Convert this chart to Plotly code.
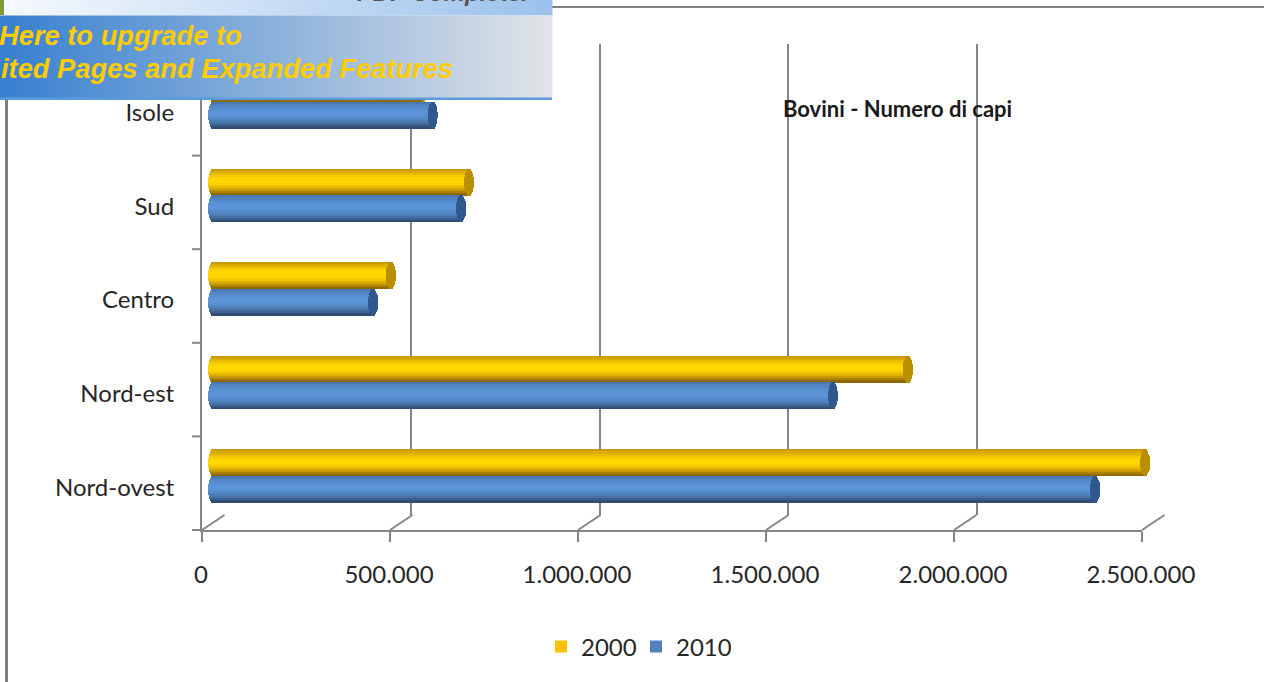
import math
import plotly.graph_objects as go

categories = ["Nord-ovest", "Nord-est", "Centro", "Sud", "Isole"]
values_2000 = [2479000, 1848000, 473000, 681000, 560000]
values_2010 = [2346000, 1649000, 426000, 660000, 584000]
x_ticks = [0, 500000, 1000000, 1500000, 2000000, 2500000]
x_labels = ["0", "500.000", "1.000.000", "1.500.000", "2.000.000", "2.500.000"]
series_names = ["2000", "2010"]
title_text = "Bovini - Numero di capi"
banner_lines = ["Here to upgrade to", "ited Pages and Expanded Features"]

W, H = 1264, 682
FONT = "Lato, Carlito, sans-serif"
GRAY = "#858585"
px_per_unit = 940 / 2500000
def fx(p): return p / W
def fy(p): return 1 - p / H

SHADES = {
    "2000": ["#c89c00", "#d9aa00", "#e9bb00", "#f5c800", "#fdd300", "#ffd800", "#ffd800",
             "#fbd000", "#f0c300", "#dfb000", "#c89a00", "#ab8200", "#8c6a00"],
    "2010": ["#4a78b0", "#4f82bf", "#5389c8", "#568fd0", "#5992d5", "#5b94d8", "#5b94d8",
             "#578ecf", "#5287c4", "#4c7db6", "#4571a4", "#3b608d", "#2f4d75"],
}
CAP = {"2000": "#b98f00", "2010": "#30588f"}
LEG = {"2000": "#ffc000", "2010": "#4f81bd"}
CAP_A = 5 / px_per_unit
STRIP_PX = 26.5 / 13
UNIT_PX = 93.6
OFFS = {"2000": 0.5, "2010": -0.5}

fig = go.Figure()
fig.add_trace(go.Scatter(x=[None], y=[None], xaxis="x2", yaxis="y3", showlegend=False))
for name, vals in zip(series_names, [values_2000, values_2010]):
    n = len(SHADES[name])
    for k, col in enumerate(SHADES[name]):
        t = (k + 0.5) / n * 2 - 1
        s = math.sqrt(1 - t * t)
        dy = (OFFS[name] * 26.5 - t * 13.25) / UNIT_PX
        ys = [i + dy for i in range(len(categories))]
        fig.add_trace(go.Bar(
            y=ys, x=[v + CAP_A * s for v in vals], base=[-CAP_A * s] * len(vals),
            orientation="h", width=(STRIP_PX + 0.5) / UNIT_PX, marker=dict(color=col, line_width=0),
            xaxis="x3", yaxis="y2", showlegend=False, hoverinfo="skip"))
    for k in range(n):
        t = (k + 0.5) / n * 2 - 1
        s = math.sqrt(1 - t * t)
        dy = (OFFS[name] * 26.5 - t * 13.25) / UNIT_PX
        ys = [i + dy for i in range(len(categories))]
        fig.add_trace(go.Bar(
            y=ys, x=[2 * CAP_A * s] * len(vals), base=[v - CAP_A * s for v in vals],
            orientation="h", width=(STRIP_PX + 0.5) / UNIT_PX, marker=dict(color=CAP[name], line_width=0),
            xaxis="x3", yaxis="y2", showlegend=False, hoverinfo="skip"))

for name in series_names:
    fig.add_trace(go.Bar(x=[None], y=[None], name=name, orientation="h",
                         marker=dict(color=LEG[name], line_width=0), xaxis="x", yaxis="y"))

shapes = []
for v in x_ticks:
    fx0 = 202 + v * px_per_unit
    shapes.append(dict(type="line", xref="paper", yref="paper", x0=fx(fx0), x1=fx(fx0 + 22.5),
                       y0=fy(530), y1=fy(515), line=dict(color=GRAY, width=2), layer="below"))
shapes.append(dict(type="line", xref="paper", yref="paper", x0=fx(552), x1=1, y0=fy(7), y1=fy(7),
                   line=dict(color="#808080", width=2)))
shapes.append(dict(type="line", xref="paper", yref="paper", x0=fx(6.5), x1=fx(6.5), y0=fy(100), y1=0,
                   line=dict(color="#808080", width=3)))

def mix(a, b, t):
    return "#" + "".join(f"{round(a[i] + (b[i] - a[i]) * t):02x}" for i in range(3))
N = 69
for i in range(N):
    t = i / (N - 1)
    x0, x1 = 552 * i / N, 552 * (i + 1) / N + 0.5
    shapes.append(dict(type="rect", xref="paper", yref="paper", x0=fx(x0), x1=fx(x1), y0=fy(0), y1=fy(15.5),
                       fillcolor=mix((246, 249, 253), (156, 194, 236), t), line_width=0, layer="above"))
    shapes.append(dict(type="rect", xref="paper", yref="paper", x0=fx(x0), x1=fx(x1), y0=fy(15.5), y1=fy(98),
                       fillcolor=mix((56, 128, 208), (224, 227, 231), t), line_width=0, layer="above"))
shapes.append(dict(type="rect", xref="paper", yref="paper", x0=0, x1=fx(552), y0=fy(97.5), y1=fy(100),
                   fillcolor="#5b9bdc", line_width=0, layer="above"))
shapes.append(dict(type="rect", xref="paper", yref="paper", x0=0, x1=fx(4), y0=fy(0), y1=fy(15),
                   fillcolor="#7f9a3a", line_width=0, layer="above"))
for i in range(5):
    p = 530 - i * 93.6
    shapes.append(dict(type="line", xref="paper", yref="paper", x0=fx(192), x1=fx(202), y0=fy(p), y1=fy(p),
                       line=dict(color=GRAY, width=2)))

banner_font = dict(family="Liberation Sans", size=27.3, color="#ffcc00", weight="bold", style="italic")
annotations = [
    dict(text=title_text, xref="paper", yref="paper", x=fx(897.5), y=fy(109), showarrow=False,
         font=dict(family=FONT, size=22, color="#1a1a1a", weight="bold"), xanchor="center", yanchor="middle"),
    dict(text=banner_lines[0], xref="paper", yref="paper", x=fx(0), y=fy(36), showarrow=False, xanchor="left",
         yanchor="middle", xshift=-3, font=banner_font),
    dict(text=banner_lines[1], xref="paper", yref="paper", x=fx(2), y=fy(68), showarrow=False, xanchor="left",
         yanchor="middle", xshift=-3, font=banner_font),
    dict(text="PDF Complete.", xref="paper", yref="paper", x=fx(355), y=fy(8), showarrow=False, xanchor="left",
         yanchor="bottom", font=dict(family="Liberation Sans", size=24, color="#555555", weight="bold", style="italic")),
]

tickfont = dict(family=FONT, size=24, color="#262626")
fig.update_layout(
    width=W, height=H, autosize=False,
    margin=dict(l=0, r=0, t=0, b=0, pad=0, autoexpand=False),
    paper_bgcolor="white", plot_bgcolor="rgba(0,0,0,0)",
    barmode="overlay", bargap=0,
    showlegend=True,
    legend=dict(orientation="h", x=fx(541), y=fy(647), xanchor="left", yanchor="middle",
                font=dict(family=FONT, size=24, color="#262626"), bgcolor="rgba(0,0,0,0)",
                entrywidth=50, entrywidthmode="pixels", traceorder="normal"),
    shapes=shapes, annotations=annotations,
    xaxis=dict(domain=[fx(202), fx(1142)], range=[0, 2500000], anchor="y", tickvals=x_ticks, ticktext=x_labels,
               ticks="outside", ticklen=10, tickwidth=2, tickcolor=GRAY, showline=True, linecolor=GRAY, linewidth=2,
               showgrid=False, zeroline=False, tickfont=tickfont, ticklabelstandoff=12, ticklabelshift=-1),
    yaxis=dict(domain=[fy(530), fy(62)], range=[-0.5, 4.5], anchor="x", tickmode="array",
               tickvals=list(range(5)), ticktext=categories, ticks="", showline=True, linecolor=GRAY,
               linewidth=2, showgrid=False, zeroline=False, tickfont=tickfont, ticklabelstandoff=21, ticklabelshift=4),
    xaxis2=dict(domain=[fx(223), fx(1165)], range=[0, 2500000], anchor="y3", tickvals=x_ticks,
                showticklabels=False, showgrid=True, gridcolor=GRAY, gridwidth=2, zeroline=False, ticks=""),
    yaxis3=dict(domain=[fy(515), fy(44)], range=[0, 1], anchor="x2", visible=False),
    xaxis3=dict(domain=[fx(202), fx(1153)], range=[-11 / px_per_unit, 2500000], anchor="y2", visible=False),
    yaxis2=dict(domain=[fy(523), fy(55)], range=[-0.5, 4.5], anchor="x3", visible=False),
)

fig.write_html("out.html", config=dict(displayModeBar=False), post_script="document.body.style.margin='0';")
